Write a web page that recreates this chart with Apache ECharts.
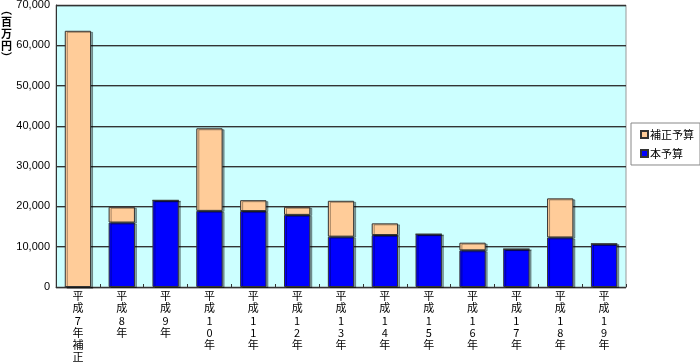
<!DOCTYPE html>
<html>
<head>
<meta charset="utf-8">
<script src="https://cdn.jsdelivr.net/npm/echarts@6/dist/echarts.min.js"></script>
<style>
html,body{margin:0;padding:0;background:#fff;}
#c{width:700px;height:363px;}
</style>
</head>
<body>
<div id="c"></div>
<script>
var categories = ['平成7年補正','平成8年','平成9年','平成10年','平成11年','平成12年','平成13年','平成14年','平成15年','平成16年','平成17年','平成18年','平成19年'];
var mainBudget = [0, 16000, 21500, 18900, 18850, 17900, 12500, 12900, 13100, 9100, 9400, 12300, 10700];
var supplementary = [63600, 3900, 0, 20500, 2700, 2000, 8900, 2900, 0, 1900, 0, 9700, 0];
var yTicks = [0, 10000, 20000, 30000, 40000, 50000, 60000, 70000];

var chart = echarts.init(document.getElementById('c'), null, {renderer: 'canvas'});
var jp = '"Noto Sans CJK JP", sans-serif';
var barBorder = {borderColor: '#333333', borderWidth: 1, shadowColor: 'rgba(0,0,0,0.35)', shadowOffsetX: 2, shadowOffsetY: 1, shadowBlur: 0};
chart.setOption({
  animation: false,
  backgroundColor: '#ffffff',
  grid: {left: 56, top: 5, right: 74, bottom: 76, outerBoundsMode: 'none', containLabel: false,
         show: true, backgroundColor: '#CCFFFF', borderColor: '#999999', borderWidth: 1},
  legend: {
    orient: 'vertical', right: 0, top: 123,
    data: ['補正予算', '本予算'],
    itemWidth: 7, itemHeight: 7, itemGap: 8,
    padding: [6, 6, 6, 9],
    borderColor: '#888888', borderWidth: 1,
    icon: 'rect',
    textStyle: {fontFamily: jp, fontSize: 11, color: '#000', padding: [0, 0, 0, -3]}
  },
  graphic: [{
    type: 'text', left: 1, top: 4,
    style: {text: '︵\n百\n万\n円\n︶', fontFamily: jp, fontSize: 11, fontWeight: 'bold', lineHeight: 12, fill: '#000', align: 'center'}
  }],
  xAxis: {
    type: 'category', data: categories,
    axisLine: {lineStyle: {color: '#333333', width: 1}},
    axisTick: {show: true, inside: true, length: 3, interval: 0, lineStyle: {color: '#333'}},
    axisLabel: {
      interval: 0, margin: 3, fontFamily: jp, fontSize: 11, lineHeight: 12.2, color: '#000', verticalAlign: 'top',
      formatter: function (v) { return v.split('').join('\n'); }
    }
  },
  yAxis: {
    type: 'value', min: 0, max: 70000, interval: 10000,
    axisLine: {show: true, lineStyle: {color: '#333333'}},
    axisTick: {show: false},
    splitLine: {show: true, lineStyle: {color: '#333333', width: 1, shadowColor: 'rgba(0,0,0,0.3)', shadowOffsetY: 1}},
    axisLabel: {
      margin: 6, fontFamily: '"Liberation Sans", Arial, sans-serif', fontSize: 11, color: '#000',
      formatter: function (v) { return yTicks.indexOf(v) >= 0 ? v.toLocaleString('en-US') : ''; }
    }
  },
  series: [
    {name: '本予算', type: 'bar', stack: 'b', data: mainBudget, barWidth: '60%',
     itemStyle: Object.assign({color: '#0000FF'}, barBorder)},
    {name: '補正予算', type: 'bar', stack: 'b', data: supplementary, barWidth: '60%',
     itemStyle: Object.assign({color: '#FFCC99'}, barBorder)}
  ]
});
</script>
</body>
</html>
